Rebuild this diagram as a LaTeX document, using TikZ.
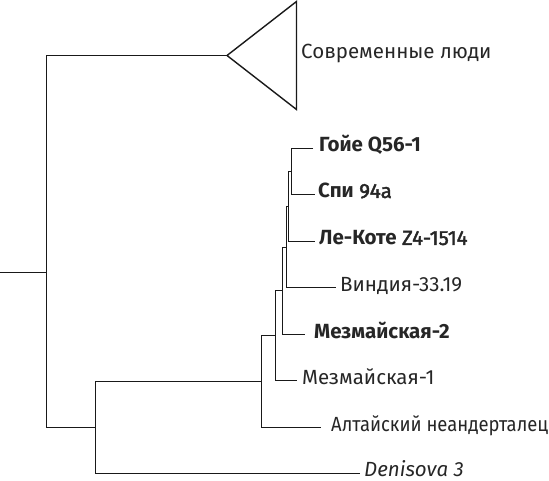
\documentclass[tikz,border=0pt]{standalone}
\usepackage{fontspec}
\setmainfont{Fira Sans}
\newfontfamily\medfont[FakeBold=2]{Fira Sans}
\begin{document}
\begin{tikzpicture}[x=1pt,y=-1pt,
  br/.style={line width=1.4pt, line join=miter, black!90},
  lab/.style={anchor=west, inner sep=0pt, text height=0.7em, text depth=0pt, font=\fontsize{20.5}{24}\selectfont, text=black!85}]
\useasboundingbox (0,0) rectangle (549,481);
% labels
\node[lab] (modern) at (301,55.5) {Современные люди};
\node[lab] (goyet) at (319,148.5) {\bfseries Гойе Q56-1};
\node[lab] (spy) at (318,194.5) {{\bfseries Спи} {\medfont 94а}};
\node[lab] (lecotte) at (319,241.5) {{\bfseries Ле-Коте} {\medfont Z4-1514}};
\node[lab] (vindija) at (340,287.5) {Виндия-33.19};
\node[lab] (mez2) at (314,334.5) {\bfseries Мезмайская-2};
\node[lab] (mez1) at (302,380.5) {Мезмайская-1};
\node[lab] (altai) at (331,427.5) {\scalebox{0.9}[1]{Алтайский неандерталец}};
\node[lab] (deni) at (364,472.5) {\itshape Denisova 3};
% leaf tips
\coordinate (tGoyet) at (313,148.5);
\coordinate (tSpy) at (315,194.5);
\coordinate (tLeCotte) at (315,241.5);
\coordinate (tVindija) at (336,287.5);
\coordinate (tMez2) at (305,334.5);
\coordinate (tMez1) at (297,380.5);
\coordinate (tAltai) at (321,427.5);
\coordinate (tDeni) at (360,473.5);
% internal nodes
\coordinate (nA) at (291.5,171.5);
\coordinate (nB) at (288.5,206.5);
\coordinate (nC) at (286.5,247.5);
\coordinate (nD) at (282.5,290.5);
\coordinate (nE) at (275.5,335.5);
\coordinate (nF) at (261.5,381.5);
\coordinate (nG) at (95.5,427.5);
\coordinate (nR) at (46.5,272.5);
\coordinate (rootstub) at (0,272.5);
\coordinate (ntop) at (46.5,55.5);
% modern humans triangle
\coordinate (apex) at (227,55.5);
\coordinate (ttop) at (296.5,1.5);
\coordinate (tbot) at (296.5,109.5);
\draw[br] (apex) -- (ttop) -- (tbot) -- cycle;
% tree
\draw[br] (tGoyet) -| (nA) |- (tSpy);
\draw[br] (nA) -| (nB) |- (tLeCotte);
\draw[br] (nB) -| (nC) |- (tVindija);
\draw[br] (nC) -| (nD) |- (tMez2);
\draw[br] (nD) -| (nE) |- (tMez1);
\draw[br] (nE) -| (nF) |- (tAltai);
\draw[br] (nF) -| (nG) |- (tDeni);
\draw[br] (apex) -- (ntop) |- (nG);
\draw[br] (rootstub) -- (nR);
\end{tikzpicture}
\end{document}
